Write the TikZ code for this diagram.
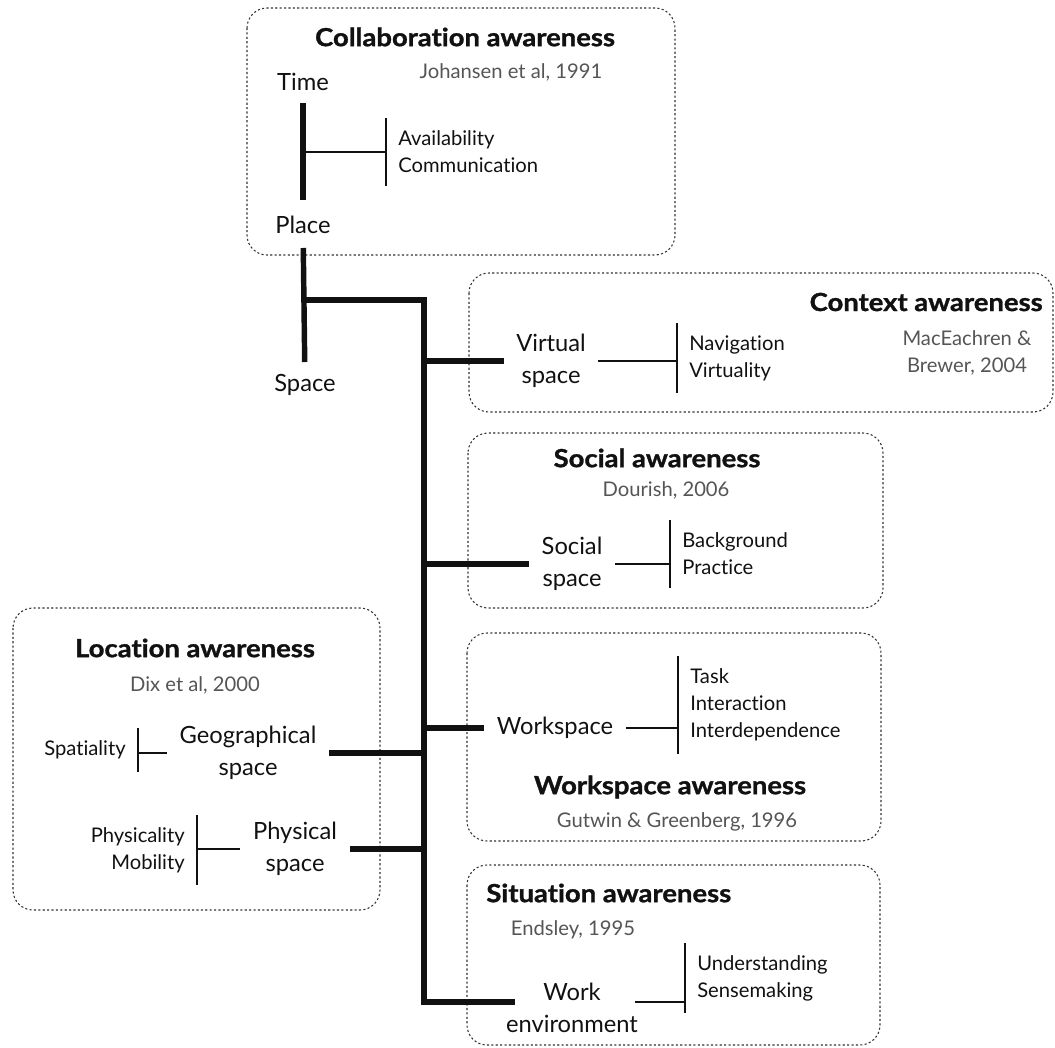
\documentclass[tikz,border=0pt]{standalone}
\usepackage{fontspec}
\setmainfont[Ligatures=NoCommon]{Lato}
\newfontfamily\headfont[FakeStretch=1.1,Ligatures=NoCommon,BoldFeatures={FakeBold=1.2}]{Lato}
\usepackage{tikz}
\usetikzlibrary{calc}
\definecolor{Ink}{HTML}{111111}
\definecolor{Cite}{HTML}{555555}
\definecolor{Frame}{HTML}{333333}
\tikzset{panel/.style={draw=Frame,line width=.6pt,dash pattern=on 1.2pt off 1.3pt,rounded corners=.4cm},head/.style={font=\headfont\bfseries\fontsize{14.2}{17}\selectfont,text=Ink,inner sep=0pt},cite/.style={font=\fontsize{11.5}{15.3}\selectfont,text=Cite,align=center,inner sep=0pt},term/.style={font=\fontsize{13.5}{18}\selectfont,text=Ink,align=center,inner xsep=7pt,inner ysep=2pt},itemlist/.style={font=\fontsize{11.5}{15.3}\selectfont,text=Ink,inner xsep=6.8pt,inner ysep=7pt},trunk/.style={line width=3.1pt,draw=Ink},twig/.style={line width=1.6pt,draw=Ink}}

\begin{document}
\begin{tikzpicture}[x=0.02cm,y=-0.02cm]
      \useasboundingbox (0,0) rectangle (1055,1048);
      \draw[panel] (247,8) rectangle (675,255);
      \draw[panel] (469,273) rectangle (1053,412);
      \draw[panel] (468,433) rectangle (883,608);
      \draw[panel] (467,633) rectangle (881,841);
      \draw[panel] (467,865) rectangle (880,1045);
      \draw[panel] (13,608) rectangle (380,910);
      \node[head](collabhead) at (465,37){Collaboration awareness};
      \node[cite](johansen) at (511,72){Johansen et al, 1991};
      \node[term](time) at (303,82){Time};
      \node[term](place) at (303,225){Place};
      \node[term](space) at (305,385){Space};
      \node[itemlist,anchor=west,align=left](avalist) at (386,152){Availability\\Communication};
      \node[head,anchor=east](contexthead) at (1043,302){Context awareness};
      \node[cite](maceachren) at (967,353){MacEachren \&\\Brewer, 2004};
      \node[term](virtual) at (551,361){Virtual\\space};
      \node[itemlist,anchor=west,align=left](navlist) at (677,358){Navigation\\Virtuality};
      \node[head](socialhead) at (657,458){Social awareness};
      \node[cite](dourish) at (666,490){Dourish, 2006};
      \node[term](social) at (572,564){Social\\space};
      \node[itemlist,anchor=west,align=left](soclist) at (670,554){Background\\Practice};
      \node[term](workspace) at (555,728){Workspace};
      \node[itemlist,anchor=west,align=left](tasklist) at (678,705){Task\\Interaction\\Interdependence};
      \node[head](workhead) at (670,787){Workspace awareness};
      \node[cite](gutwin) at (677,822){Gutwin \& Greenberg, 1996};
      \node[head,anchor=west](situationhead) at (486,893){Situation awareness};
      \node[cite](endsley) at (573,930){Endsley, 1995};
      \node[term](workenv) at (572,1008){Work\\environment};
      \node[itemlist,anchor=west,align=left](undlist) at (685,978){Understanding\\Sensemaking};
      \node[head](locationhead) at (195,648){Location awareness};
      \node[cite](dix) at (195,685){Dix et al, 2000};
      \node[term](geo) at (248,753){Geographical\\space};
      \node[itemlist,anchor=east,align=right](spalist) at (138,750){Spatiality};
      \node[term](physical) at (295,849){Physical\\space};
      \node[itemlist,anchor=east,align=right](phylist) at (197,850){Physicality\\Mobility};
      \coordinate(split) at (303,300);
      \coordinate(hub) at (424,300);
      \draw[trunk,shorten <=.42cm,shorten >=.5cm](time.center)--(place.center);
      \draw[trunk,shorten <=.46cm,shorten >=.46cm](place.center)--(space.center);
      \draw[trunk](split)--(hub)|-($(workenv.west)+(22,-6)$);
      \draw[trunk](hub|-virtual.west)--(virtual.west);\draw[trunk](hub|-social.west)--(social.west);
      \draw[trunk](hub|-workspace.west)--(workspace.west);
      \draw[trunk](geo.east)--(hub|-geo.east);\draw[trunk](physical.east)--(hub|-physical.east);
      \draw[twig](avalist.north west)--(avalist.south west);\draw[twig](time.center|-avalist.west)--(avalist.west);
      \draw[twig](navlist.north west)--(navlist.south west);\draw[twig](virtual.east)--(navlist.west|-virtual.east);
      \draw[twig](soclist.north west)--(soclist.south west);\draw[twig](social.east)--(soclist.west|-social.east);
      \draw[twig](tasklist.north west)--(tasklist.south west);\draw[twig](workspace.east)--(tasklist.west|-workspace.east);
      \draw[twig](undlist.north west)--(undlist.south west);\draw[twig]($(workenv.east)+(-16,-6)$)--($(undlist.west|-workenv.east)+(0,-6)$);
      \draw[twig](spalist.north east)--(spalist.south east);\draw[twig](geo.west)--(spalist.east|-geo.west);
      \draw[twig](phylist.north east)--(phylist.south east);\draw[twig](physical.west)--(phylist.east|-physical.west);
    \end{tikzpicture}
\end{document}
